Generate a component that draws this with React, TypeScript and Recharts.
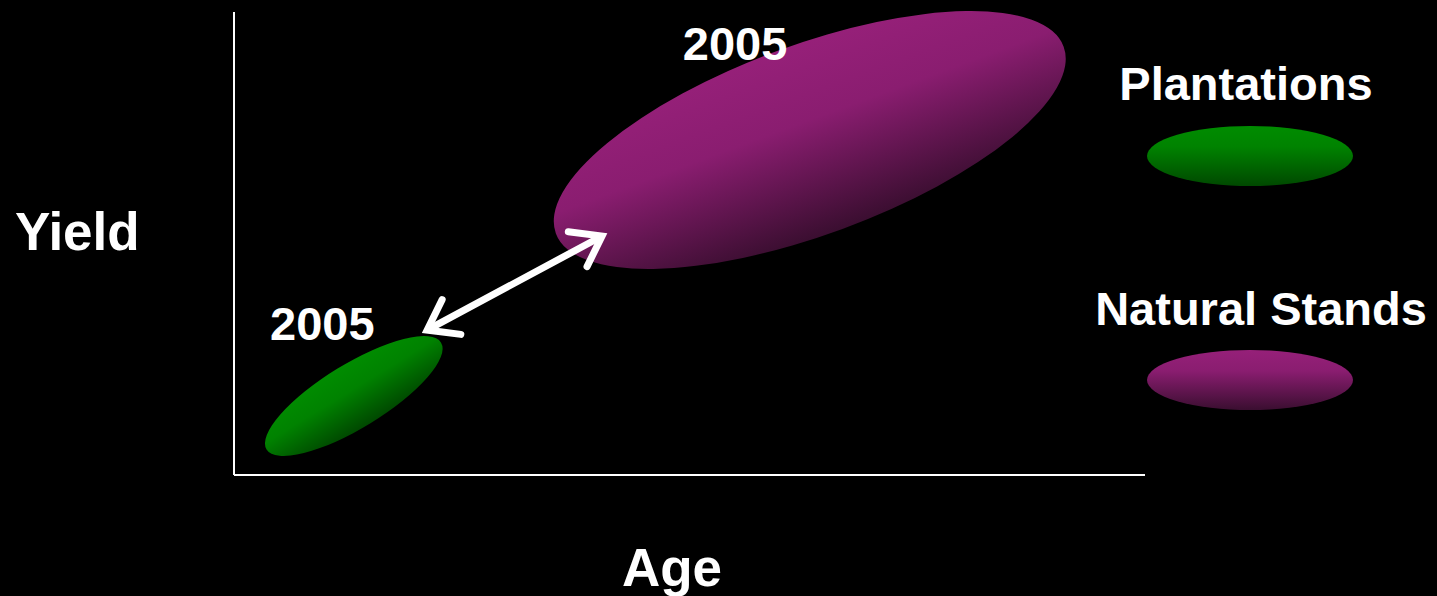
import { ComposedChart, Scatter, XAxis, YAxis, ReferenceArea, ReferenceLine, Legend } from 'recharts';

// series (ellipses), in axis units 0..100
const categories = ['Plantations', 'Natural Stands'];
const ageFrom = [3.4, 35.1];
const ageTo = [22.9, 91.3];
const yieldFrom = [4.1, 44.5];
const yieldTo = [30.0, 100.2];
// where the topmost point sits, as a share of the half width (gives the lean)
const tilt = [0.79, 0.63];
const yearLabels = ['2005', '2005'];
const yearLabelAge = [9.7, 55.0];
const yearLabelYield = [29.2, 89.6];
const arrowAge = [21.2, 40.4];
const arrowYield = [31.3, 51.6];

const labelData = yearLabels.map((text, i) => ({ age: yearLabelAge[i], yield: yearLabelYield[i], text }));

const FONT = '"Liberation Sans", Arial, sans-serif';
const gradients = [
  { id: 'gPlant', top: '#008c00', mid: '#008200', bottom: '#004800' },
  { id: 'gNat', top: '#962079', mid: '#8a1d70', bottom: '#3a0e30' },
];

const tiltedEllipse = (i: number) => (props: any) => {
  const { x, y, width, height } = props;
  const W = width / 2;
  const H = height / 2;
  const c = tilt[i] * W * H;
  const S = W * W + H * H;
  const D = Math.sqrt((W * W - H * H) ** 2 + 4 * c * c);
  const a = Math.sqrt((S + D) / 2);
  const b = Math.sqrt(Math.max((S - D) / 2, 1));
  const theta = (0.5 * Math.atan2(2 * c, W * W - H * H) * 180) / Math.PI;
  const cx = x + W;
  const cy = y + H;
  return (
    <ellipse
      cx={cx}
      cy={cy}
      rx={a}
      ry={b}
      fill={`url(#${gradients[i].id})`}
      transform={`rotate(${-theta} ${cx} ${cy})`}
    />
  );
};

const doubleArrow = (props: any) => {
  const { x1, y1, x2, y2 } = props;
  const ang = Math.atan2(y2 - y1, x2 - x1);
  const len = 34;
  const spread = 0.62;
  const head = (px: number, py: number, dir: number) => {
    const p1x = px + len * Math.cos(dir + spread);
    const p1y = py + len * Math.sin(dir + spread);
    const p2x = px + len * Math.cos(dir - spread);
    const p2y = py + len * Math.sin(dir - spread);
    return `M${p1x},${p1y} L${px},${py} L${p2x},${p2y}`;
  };
  return (
    <g stroke="#fff" strokeWidth={7} strokeLinecap="round" strokeLinejoin="miter" fill="none">
      <line x1={x1 + 3 * Math.cos(ang)} y1={y1 + 3 * Math.sin(ang)} x2={x2 - 3 * Math.cos(ang)} y2={y2 - 3 * Math.sin(ang)} />
      <path d={head(x1, y1, ang)} />
      <path d={head(x2, y2, ang + Math.PI)} />
    </g>
  );
};

const yearText = (props: any) => (
  <text
    x={props.cx}
    y={props.cy}
    textAnchor="middle"
    fill="#fff"
    fontFamily={FONT}
    fontWeight="bold"
    fontSize={47}
  >
    {props.payload.text}
  </text>
);

const axisTitle = (text: string, dx: number, dy: number, anchor: string) => (p: any) => (
  <text
    x={p.viewBox.x + dx}
    y={p.viewBox.y + dy}
    textAnchor={anchor}
    fill="#fff"
    fontFamily={FONT}
    fontWeight="bold"
    fontSize={53}
  >
    {text}
  </text>
);

const LegendBox = () => (
  <svg width={352} height={370} style={{ display: 'block' }}>
    <defs>
      {gradients.map((g) => (
        <linearGradient key={g.id} id={`${g.id}L`} x1="0" y1="0" x2="0" y2="1">
          <stop offset="0" stopColor={g.top} />
          <stop offset="0.35" stopColor={g.mid} />
          <stop offset="1" stopColor={g.bottom} />
        </linearGradient>
      ))}
    </defs>
    {categories.map((name, i) => (
      <g key={name}>
        <text
          x={i === 0 ? 166 : 181}
          y={45 + i * 225}
          textAnchor="middle"
          fill="#fff"
          fontFamily={FONT}
          fontWeight="bold"
          fontSize={47}
        >
          {name}
        </text>
        <ellipse cx={170} cy={101 + i * 224} rx={103} ry={30} fill={`url(#${gradients[i].id}L)`} />
      </g>
    ))}
  </svg>
);

export default function App() {
  return (
    <div style={{ position: 'absolute', left: 0, top: 0, width: 1437, height: 596, background: '#000' }}>
      <ComposedChart
        width={1437}
        height={596}
        data={labelData}
        margin={{ top: 12, right: 292, bottom: 120, left: 233 }}
      >
        <defs>
          {gradients.map((g) => (
            <linearGradient key={g.id} id={g.id} x1="0" y1="0" x2="0" y2="1">
              <stop offset="0" stopColor={g.top} />
              <stop offset="0.4" stopColor={g.mid} />
              <stop offset="1" stopColor={g.bottom} />
            </linearGradient>
          ))}
        </defs>
        <XAxis
          type="number"
          dataKey="age"
          domain={[0, 100]}
          allowDataOverflow
          height={1}
          tick={false}
          tickLine={false}
          axisLine={{ stroke: '#fff', strokeWidth: 2 }}
          label={axisTitle('Age', 438, 111, 'middle')}
        />
        <YAxis
          type="number"
          dataKey="yield"
          domain={[0, 100]}
          allowDataOverflow
          width={1}
          tick={false}
          tickLine={false}
          axisLine={{ stroke: '#fff', strokeWidth: 2 }}
          label={axisTitle('Yield', -218, 238, 'start')}
        />
        {categories.map((name, i) => (
          <ReferenceArea
            key={name}
            x1={ageFrom[i]}
            x2={ageTo[i]}
            y1={yieldFrom[i]}
            y2={yieldTo[i]}
            ifOverflow="visible"
            shape={tiltedEllipse(i)}
          />
        ))}
        <ReferenceLine
          segment={[
            { x: arrowAge[0], y: arrowYield[0] },
            { x: arrowAge[1], y: arrowYield[1] },
          ]}
          ifOverflow="visible"
          shape={doubleArrow}
        />
        <Scatter
          dataKey="yield"
          data={labelData}
          shape={yearText}
          isAnimationActive={false}
          legendType="none"
        />
        <Legend
          layout="horizontal"
          verticalAlign="middle"
          align="center"
          wrapperStyle={{ left: 1080, top: 55, width: 352, height: 370 }}
          content={() => <LegendBox />}
        />
      </ComposedChart>
    </div>
  );
}
